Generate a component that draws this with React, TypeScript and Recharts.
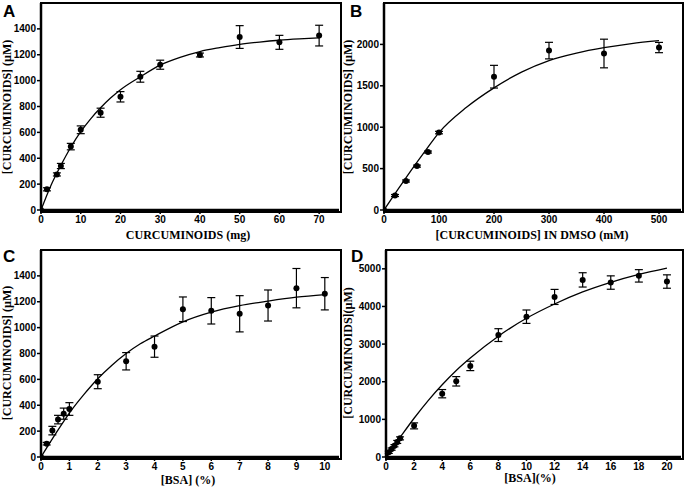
import React from 'react';
import { ComposedChart, Scatter, Line, XAxis, YAxis, ErrorBar } from 'recharts';

// A: curcuminoids added (mg)
const aX = [0, 1.5, 4, 5, 7.5, 10, 15, 20, 25, 30, 40, 50, 60, 70];
const aY = [0, 160, 275, 340, 490, 620, 752, 875, 1030, 1123, 1198, 1337, 1296, 1348];
const aErr = [0, 12, 12, 20, 25, 30, 35, 40, 42, 35, 15, 88, 54, 80];
const aFitX = [0, 2.5, 5, 7.5, 10, 12.5, 15, 17.5, 20, 25, 30, 35, 40, 45, 50, 55, 60, 65, 70];
const aFitY = [0, 190, 345, 485, 605, 705, 790, 865, 930, 1030, 1120, 1180, 1225, 1255, 1280, 1298, 1312, 1322, 1330];

// B: curcuminoids in DMSO (mM)
const bX = [0, 20, 40, 60, 80, 100, 200, 300, 400, 500];
const bY = [0, 175, 350, 530, 700, 935, 1610, 1925, 1890, 1962];
const bErr = [0, 12, 12, 12, 12, 15, 137, 100, 173, 62];
const bFitX = [0, 25, 50, 75, 100, 150, 200, 250, 300, 350, 400, 450, 500];
const bFitY = [0, 245, 485, 715, 935, 1240, 1475, 1665, 1805, 1895, 1960, 2010, 2045];

// C: BSA (%) 0-10
const cX = [0, 0.2, 0.4, 0.6, 0.8, 1, 2, 3, 4, 5, 6, 7, 8, 9, 10];
const cY = [0, 103, 204, 289, 335, 371, 582, 740, 853, 1142, 1130, 1107, 1171, 1305, 1262];
const cErr = [0, 10, 33, 33, 43, 49, 54, 67, 82, 95, 102, 140, 120, 152, 125];
const cFitX = [0, 0.5, 1, 1.5, 2, 2.5, 3, 3.5, 4, 5, 6, 7, 8, 9, 10];
const cFitY = [0, 175, 340, 480, 605, 710, 800, 875, 935, 1045, 1120, 1170, 1205, 1235, 1255];

// D: BSA (%) 0-20
const dX = [0, 0.2, 0.4, 0.6, 0.8, 1, 2, 4, 5, 6, 8, 10, 12, 14, 16, 18, 20];
const dY = [0, 125, 210, 300, 400, 495, 827, 1682, 2011, 2420, 3239, 3728, 4253, 4706, 4635, 4813, 4662];
const dErr = [0, 30, 30, 30, 40, 40, 80, 110, 125, 125, 170, 178, 200, 190, 178, 165, 178];
const dFitX = [0, 1, 2, 3, 4, 5, 6, 8, 10, 12, 14, 16, 18, 20];
const dFitY = [0, 520, 1030, 1500, 1920, 2300, 2630, 3210, 3685, 4065, 4385, 4640, 4850, 5020];

const aXTicks = [0, 10, 20, 30, 40, 50, 60, 70];
const aYTicks = [0, 200, 400, 600, 800, 1000, 1200, 1400];
const bXTicks = [0, 100, 200, 300, 400, 500];
const bYTicks = [0, 500, 1000, 1500, 2000];
const cXTicks = [0, 1, 2, 3, 4, 5, 6, 7, 8, 9, 10];
const cYTicks = [0, 200, 400, 600, 800, 1000, 1200, 1400];
const dXTicks = [0, 2, 4, 6, 8, 10, 12, 14, 16, 18, 20];
const dYTicks = [0, 1000, 2000, 3000, 4000, 5000];

const toPoints = (xs: number[], ys: number[], es: number[]) =>
  xs.map((x, i) => ({ x, y: ys[i], err: es[i] }));
const toCurve = (xs: number[], ys: number[]) => xs.map((x, i) => ({ x, y: ys[i] }));

const tickStyle = { fontSize: 10, fontWeight: 'bold', fill: '#000', fontFamily: '"Liberation Sans", Arial, sans-serif' };
const titleFont = '"Liberation Serif", "Times New Roman", serif';

const W = 345;
const H = 245;
const BORDER = 2.5;

// panel placement: chart offset on the page + margins around the plot box
const layouts = [
  { left: 0, top: 0, mTop: 3, mRight: 6, yWidth: 41, xHeight: 35 },
  { left: 340, top: 0, mTop: 3, mRight: 4, yWidth: 44, xHeight: 35 },
  { left: 0, top: 245, mTop: 5, mRight: 6, yWidth: 41, xHeight: 33 },
  { left: 340, top: 245, mTop: 5, mRight: 4, yWidth: 46, xHeight: 33 },
];
type Layout = (typeof layouts)[number];

const Dot = (p: any) => <circle cx={p.cx} cy={p.cy} r={3} fill="#000" />;

type PanelProps = {
  lay: Layout;
  xMax: number;
  yMax: number;
  xTicks: number[];
  yTicks: number[];
  points: { x: number; y: number; err: number }[];
  curve: { x: number; y: number }[];
};

const Panel: React.FC<PanelProps> = ({ lay, ...p }) => (
  <div style={{ position: 'absolute', left: lay.left, top: lay.top, width: W, height: H }}>
    <ComposedChart width={W} height={H} margin={{ top: lay.mTop, right: lay.mRight, bottom: 0, left: 0 }}>
      <XAxis
        type="number"
        dataKey="x"
        domain={[0, p.xMax]}
        ticks={p.xTicks}
        interval={0}
        allowDataOverflow
        height={lay.xHeight}
        axisLine={{ stroke: '#000', strokeWidth: BORDER }}
        tickLine={{ stroke: '#000', strokeWidth: 1.5 }}
        tickSize={4}
        tickMargin={2}
        tick={tickStyle}
      />
      <YAxis
        type="number"
        dataKey="y"
        domain={[0, p.yMax]}
        ticks={p.yTicks}
        interval={0}
        allowDataOverflow
        width={lay.yWidth}
        axisLine={{ stroke: '#000', strokeWidth: BORDER }}
        tickLine={{ stroke: '#000', strokeWidth: 1.5 }}
        tickSize={4}
        tickMargin={1}
        tick={tickStyle}
      />
      <Line data={p.curve} dataKey="y" type="monotone" stroke="#000" strokeWidth={1.3} dot={false} isAnimationActive={false} />
      <Scatter data={p.points} dataKey="y" shape={Dot} isAnimationActive={false}>
        <ErrorBar dataKey="err" direction="y" width={4} stroke="#000" strokeWidth={1.2} />
      </Scatter>
    </ComposedChart>
    {/* box round the plot area */}
    <div
      style={{
        position: 'absolute',
        left: lay.yWidth - BORDER / 2,
        top: lay.mTop - BORDER / 2,
        width: W - lay.yWidth - lay.mRight,
        height: H - lay.mTop - lay.xHeight,
        border: `${BORDER}px solid #000`,
        pointerEvents: 'none',
      }}
    />
  </div>
);

const XTitle = ({ x, y, text }: { x: number; y: number; text: string }) => (
  <text x={x} y={y} textAnchor="middle" dominantBaseline="central" fontFamily={titleFont} fontWeight="bold" fontSize={12} fill="#000">
    {text}
  </text>
);

const YTitle = ({ x, y, text }: { x: number; y: number; text: string }) => (
  <text transform={`translate(${x},${y}) rotate(-90)`} textAnchor="middle" dominantBaseline="central" fontFamily={titleFont} fontWeight="bold" fontSize={12} fill="#000">
    {text}
  </text>
);

const Letter = ({ x, y, text }: { x: number; y: number; text: string }) => (
  <text x={x} y={y} fontFamily='"Liberation Sans", Arial, sans-serif' fontWeight="bold" fontSize={17} fill="#000">
    {text}
  </text>
);

export default function App() {
  return (
    <div style={{ position: 'absolute', left: 0, top: 0, width: 685, height: 490, background: '#fff', overflow: 'hidden' }}>
      <Panel lay={layouts[0]} xMax={75} yMax={1600}
        xTicks={aXTicks} yTicks={aYTicks} points={toPoints(aX, aY, aErr)} curve={toCurve(aFitX, aFitY)} />
      <Panel lay={layouts[1]} xMax={540} yMax={2500}
        xTicks={bXTicks} yTicks={bYTicks} points={toPoints(bX, bY, bErr)} curve={toCurve(bFitX, bFitY)} />
      <Panel lay={layouts[2]} xMax={10.5} yMax={1600}
        xTicks={cXTicks} yTicks={cYTicks} points={toPoints(cX, cY, cErr)} curve={toCurve(cFitX, cFitY)} />
      <Panel lay={layouts[3]} xMax={21} yMax={5500}
        xTicks={dXTicks} yTicks={dYTicks} points={toPoints(dX, dY, dErr)} curve={toCurve(dFitX, dFitY)} />
      <svg width={685} height={490} style={{ position: 'absolute', left: 0, top: 0, pointerEvents: 'none' }}>
        <Letter x={3} y={17} text="A" />
        <Letter x={350} y={17} text="B" />
        <Letter x={3} y={262} text="C" />
        <Letter x={351} y={262} text="D" />
        <XTitle x={188} y={235} text="CURCUMINOIDS (mg)" />
        <XTitle x={532} y={235} text="[CURCUMINOIDS] IN DMSO (mM)" />
        <XTitle x={188} y={480} text="[BSA] (%)" />
        <XTitle x={530} y={478} text="[BSA](%)" />
        <YTitle x={7} y={107} text="[CURCUMINOIDS] (µM)" />
        <YTitle x={348} y={107} text="[CURCUMINOIDS] (µM)" />
        <YTitle x={7} y={353} text="[CURCUMINOIDS] (µM)" />
        <YTitle x={348} y={353} text="[CURCUMINOIDS](µM)" />
      </svg>
    </div>
  );
}
